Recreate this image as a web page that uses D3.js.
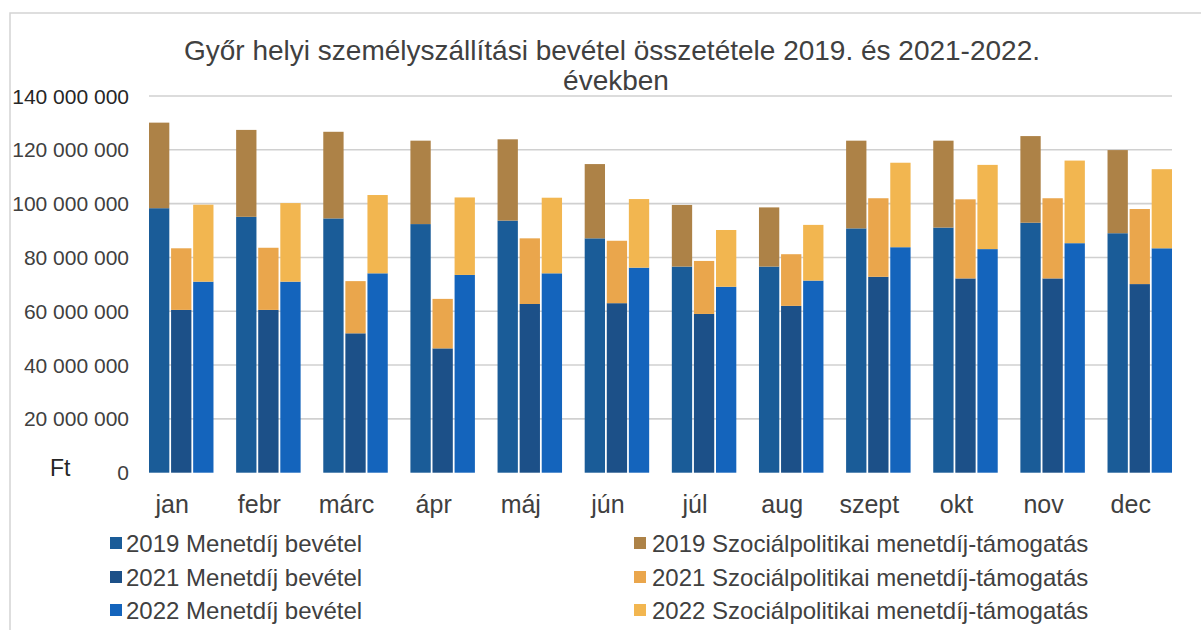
<!DOCTYPE html>
<html>
<head>
<meta charset="utf-8">
<script src="https://cdn.jsdelivr.net/npm/d3@7"></script>
<style>
	body { margin: 0; background: #fff; }
	svg { display: block; font-family: "Liberation Sans", Arial, sans-serif; }
</style>
</head>
<body>
<svg id="chart" width="1201" height="630"></svg>
<script>
var months = ["jan", "febr", "márc", "ápr", "máj", "jún", "júl", "aug", "szept", "okt", "nov", "dec"];
var years = ["2019", "2021", "2022"];

// millió Ft, leolvasva
var fare2019 = [98.3, 95.1, 94.5, 92.4, 93.7, 87.1, 76.6, 76.6, 90.8, 91.1, 92.9, 89.0];
var support2019 = [31.8, 32.3, 32.2, 31.0, 30.2, 27.6, 22.9, 22.0, 32.6, 32.3, 32.2, 30.9];
var fare2021 = [60.5, 60.5, 51.8, 46.2, 62.7, 63.0, 59.0, 62.0, 72.8, 72.2, 72.2, 70.1];
var support2021 = [22.9, 23.1, 19.4, 18.4, 24.4, 23.2, 19.7, 19.2, 29.2, 29.4, 29.8, 27.9];
var fare2022 = [71.0, 71.0, 74.1, 73.5, 74.1, 76.2, 69.1, 71.4, 83.8, 83.1, 85.3, 83.4];
var support2022 = [28.6, 29.2, 29.1, 28.8, 28.1, 25.5, 21.1, 20.7, 31.4, 31.3, 30.7, 29.4];

var yTicks = [0, 20, 40, 60, 80, 100, 120, 140];
var yTickLabels = ["0", "20 000 000", "40 000 000", "60 000 000", "80 000 000", "100 000 000", "120 000 000", "140 000 000"];

var legendLeft = ["2019 Menetdíj bevétel", "2021 Menetdíj bevétel", "2022 Menetdíj bevétel"];
var legendRight = ["2019 Szociálpolitikai menetdíj-támogatás", "2021 Szociálpolitikai menetdíj-támogatás", "2022 Szociálpolitikai menetdíj-támogatás"];

var fareColors = ["#1a5c98", "#1c5088", "#1464bc"];
var supportColors = ["#ad8247", "#eaa64c", "#f2b650"];

var fares = [fare2019, fare2021, fare2022];
var supports = [support2019, support2021, support2022];

var svg = d3.select("#chart");

// frame of the scanned chart
svg.append("rect")
	.attr("x", 10)
	.attr("y", 13)
	.attr("width", 1300)
	.attr("height", 700)
	.attr("fill", "none")
	.attr("stroke", "#d4d4d4")
	.attr("stroke-width", 1.5);

var x = d3.scaleBand()
	.domain(months)
	.range([149, 1172])
	.paddingInner(0.26)
	.paddingOuter(0);

var xSub = d3.scaleBand()
	.domain(years)
	.range([0, x.bandwidth()])
	.paddingInner(0.08);

var y = d3.scaleLinear()
	.domain([0, 140])
	.range([472.7, 96]);

// gridlines
svg.selectAll(".grid")
	.data(yTicks.slice(1))
	.enter()
	.append("line")
	.attr("class", "grid")
	.attr("x1", 149)
	.attr("x2", 1172)
	.attr("y1", function(d) { return y(d); })
	.attr("y2", function(d) { return y(d); })
	.attr("stroke", "#d0d0d0")
	.attr("stroke-width", 1.6);

// y labels
svg.selectAll(".ylabel")
	.data(yTicks)
	.enter()
	.append("text")
	.attr("class", "ylabel")
	.attr("x", 129)
	.attr("y", function(d) { return y(d); })
	.attr("dy", "0.36em")
	.attr("text-anchor", "end")
	.attr("fill", function(d) { return d == 140 ? "#262626" : "#404040"; })
	.style("font-size", "21px")
	.text(function(d, i) { return yTickLabels[i]; });

svg.append("text")
	.attr("x", 50)
	.attr("y", 476)
	.attr("fill", "#262626")
	.style("font-size", "23px")
	.text("Ft");

// bars: fare at bottom, support stacked above
years.forEach(function(year, k) {
	var rows = months.map(function(m, i) {
		return { month: m, fare: fares[k][i], support: supports[k][i] };
	});

	var g = svg.append("g").attr("class", "year_" + year);

	g.selectAll(".fare")
		.data(rows)
		.enter()
		.append("rect")
		.attr("class", "fare")
		.attr("x", function(d) { return x(d.month) + xSub(year); })
		.attr("width", xSub.bandwidth())
		.attr("y", function(d) { return y(d.fare); })
		.attr("height", function(d) { return y(0) - y(d.fare); })
		.attr("fill", fareColors[k]);

	g.selectAll(".support")
		.data(rows)
		.enter()
		.append("rect")
		.attr("class", "support")
		.attr("x", function(d) { return x(d.month) + xSub(year); })
		.attr("width", xSub.bandwidth())
		.attr("y", function(d) { return y(d.fare + d.support); })
		.attr("height", function(d) { return y(d.fare) - y(d.fare + d.support); })
		.attr("fill", supportColors[k]);
});

// month labels (sit a little left of the bar groups in the original)
svg.selectAll(".month")
	.data(months)
	.enter()
	.append("text")
	.attr("class", "month")
	.attr("x", function(d) { return x(d) + x.bandwidth() / 2 - 9; })
	.attr("y", 513)
	.attr("text-anchor", "middle")
	.attr("fill", "#404040")
	.style("font-size", "25px")
	.text(function(d) { return d; });

// title
var title = svg.append("text")
	.attr("text-anchor", "middle")
	.attr("fill", "#404040")
	.style("font-size", "28px");
title.append("tspan").attr("x", 612).attr("y", 60)
	.text("Győr helyi személyszállítási bevétel összetétele 2019. és 2021-2022.");
title.append("tspan").attr("x", 616).attr("y", 90)
	.text("években");

// legend
var legendRows = [552, 586, 619];

function drawLegend(labels, colors, sx, tx) {
	var lg = svg.append("g");
	lg.selectAll("rect")
		.data(labels)
		.enter()
		.append("rect")
		.attr("x", sx)
		.attr("y", function(d, i) { return legendRows[i] - 15; })
		.attr("width", 12)
		.attr("height", 12)
		.attr("fill", function(d, i) { return colors[i]; });
	lg.selectAll("text")
		.data(labels)
		.enter()
		.append("text")
		.attr("x", tx)
		.attr("y", function(d, i) { return legendRows[i]; })
		.attr("fill", "#404040")
		.style("font-size", "24px")
		.text(function(d) { return d; });
}

drawLegend(legendLeft, fareColors, 110, 126);
drawLegend(legendRight, supportColors, 634, 652);
</script>
</body>
</html>
